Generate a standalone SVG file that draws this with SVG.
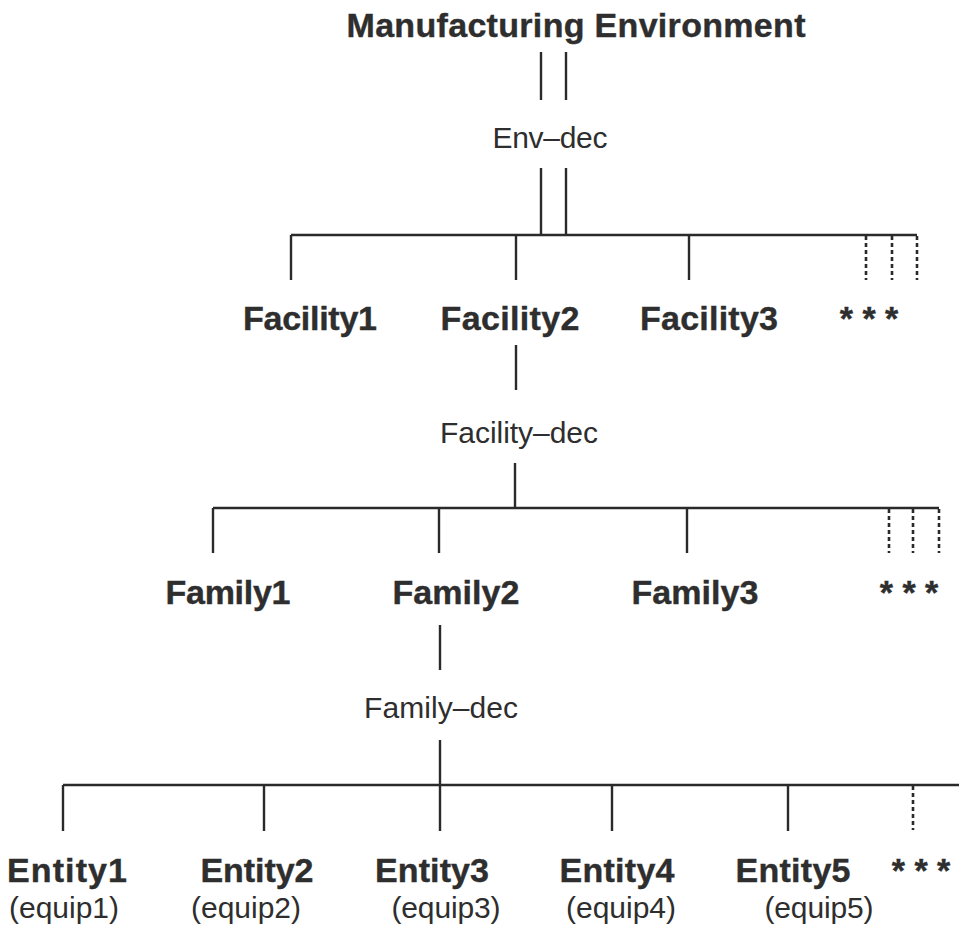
<svg xmlns="http://www.w3.org/2000/svg" width="959" height="935" viewBox="0 0 959 935">
  <style>
    .bg { fill: #ffffff; }
    .bold { font-family: "Liberation Sans", Arial, sans-serif; font-weight: bold; font-size: 34px; fill: #2e2e2e; stroke: #2e2e2e; stroke-width: 0.4; text-anchor: middle; }
    .reg { font-family: "Liberation Sans", Arial, sans-serif; font-size: 30px; fill: #2e2e2e; text-anchor: middle; }
    .ln { stroke: #2a2a2a; stroke-width: 2.4; fill: none; }
    .dash { stroke: #2a2a2a; stroke-width: 2.6; fill: none; stroke-dasharray: 4 3; }
  </style>
  <rect class="bg" x="0" y="0" width="959" height="935"/>

  <g id="connectors">
    <!-- environment to Env-dec (double) -->
    <line class="ln" x1="541" y1="52" x2="541" y2="100"/>
    <line class="ln" x1="566" y1="52" x2="566" y2="100"/>
    <!-- Env-dec to facility bus (double) -->
    <line class="ln" x1="541" y1="168" x2="541" y2="235"/>
    <line class="ln" x1="566" y1="168" x2="566" y2="235"/>
    <!-- facility bus -->
    <line class="ln" x1="291" y1="235" x2="917" y2="235"/>
    <line class="ln" x1="291" y1="235" x2="291" y2="280"/>
    <line class="ln" x1="516" y1="235" x2="516" y2="280"/>
    <line class="ln" x1="689" y1="235" x2="689" y2="280"/>
    <line class="dash" x1="866" y1="236" x2="866" y2="280"/>
    <line class="dash" x1="892" y1="236" x2="892" y2="280"/>
    <line class="dash" x1="917" y1="236" x2="917" y2="280"/>

    <!-- Facility2 to Facility-dec -->
    <line class="ln" x1="516" y1="345" x2="516" y2="390"/>
    <!-- Facility-dec to family bus -->
    <line class="ln" x1="515" y1="463" x2="515" y2="508"/>
    <!-- family bus -->
    <line class="ln" x1="213" y1="508" x2="939" y2="508"/>
    <line class="ln" x1="213" y1="508" x2="213" y2="553"/>
    <line class="ln" x1="439" y1="508" x2="439" y2="553"/>
    <line class="ln" x1="687" y1="508" x2="687" y2="553"/>
    <line class="dash" x1="889" y1="509" x2="889" y2="553"/>
    <line class="dash" x1="913" y1="509" x2="913" y2="553"/>
    <line class="dash" x1="939" y1="509" x2="939" y2="553"/>

    <!-- Family2 to Family-dec -->
    <line class="ln" x1="440" y1="625" x2="440" y2="670"/>
    <!-- Family-dec to entity bus -->
    <line class="ln" x1="440" y1="740" x2="440" y2="785"/>
    <!-- entity bus -->
    <line class="ln" x1="63" y1="785" x2="959" y2="785"/>
    <line class="ln" x1="63" y1="785" x2="63" y2="831"/>
    <line class="ln" x1="264" y1="785" x2="264" y2="831"/>
    <line class="ln" x1="440" y1="785" x2="440" y2="831"/>
    <line class="ln" x1="612" y1="785" x2="612" y2="831"/>
    <line class="ln" x1="788" y1="785" x2="788" y2="831"/>
    <line class="dash" x1="913" y1="786" x2="913" y2="830"/>
  </g>

  <g id="environment">
    <text class="bold" x="576" y="37" textLength="459">Manufacturing Environment</text>
  </g>
  <g id="env-dec">
    <text class="reg" x="550" y="148" textLength="115">Env–dec</text>
  </g>

  <g id="facility1"><text class="bold" x="310" y="330" textLength="134">Facility1</text></g>
  <g id="facility2"><text class="bold" x="510" y="330" textLength="139">Facility2</text></g>
  <g id="facility3"><text class="bold" x="709" y="330" textLength="138">Facility3</text></g>
  <g id="facility-more"><text class="bold" x="869" y="330">* * *</text></g>

  <g id="facility-dec">
    <text class="reg" x="519" y="443" textLength="158">Facility–dec</text>
  </g>

  <g id="family1"><text class="bold" x="228" y="604" textLength="125">Family1</text></g>
  <g id="family2"><text class="bold" x="456" y="604" textLength="127">Family2</text></g>
  <g id="family3"><text class="bold" x="695" y="604" textLength="127">Family3</text></g>
  <g id="family-more"><text class="bold" x="909" y="604">* * *</text></g>

  <g id="family-dec">
    <text class="reg" x="441" y="718" textLength="154">Family–dec</text>
  </g>

  <g id="entity1">
    <text class="bold" x="67" y="882" textLength="120">Entity1</text>
    <text class="reg" x="64" y="918" textLength="110">(equip1)</text>
  </g>
  <g id="entity2">
    <text class="bold" x="257" y="882" textLength="113">Entity2</text>
    <text class="reg" x="246" y="918" textLength="110">(equip2)</text>
  </g>
  <g id="entity3">
    <text class="bold" x="432" y="882" textLength="114">Entity3</text>
    <text class="reg" x="446" y="918" textLength="109">(equip3)</text>
  </g>
  <g id="entity4">
    <text class="bold" x="617" y="882" textLength="115">Entity4</text>
    <text class="reg" x="621" y="918" textLength="110">(equip4)</text>
  </g>
  <g id="entity5">
    <text class="bold" x="793" y="882" textLength="115">Entity5</text>
    <text class="reg" x="819" y="918" textLength="109">(equip5)</text>
  </g>
  <g id="entity-more"><text class="bold" x="921" y="882">* * *</text></g>
</svg>
